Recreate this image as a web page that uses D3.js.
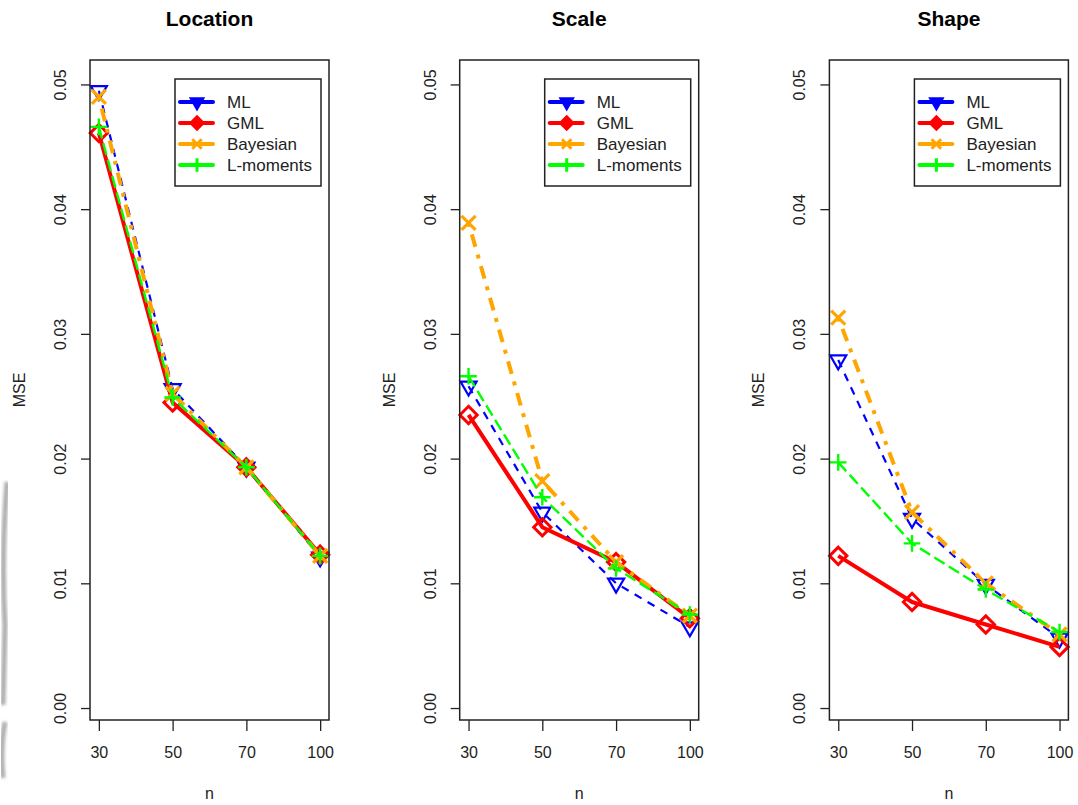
<!DOCTYPE html>
<html>
<head>
<meta charset="utf-8">
<script src="https://cdn.jsdelivr.net/npm/d3@7"></script>
<style>
  body { margin: 0; background: #fff; }
  svg { font-family: "Liberation Sans", Arial, sans-serif; }
</style>
</head>
<body>
<div id="chart"></div>
<script>
// sample sizes on the x axis (plotted at positions 1..4)
const sampleSizes = [30, 50, 70, 100];
const methods = ['ML', 'GML', 'Bayesian', 'L-moments'];
const panelTitles = ['Location', 'Scale', 'Shape'];
const yTickValues = [0, 0.01, 0.02, 0.03, 0.04, 0.05];

// MSE
const locationML    = [0.0495, 0.0256, 0.0193, 0.0121];
const locationGML   = [0.0461, 0.0245, 0.0193, 0.0123];
const locationBayes = [0.0490, 0.0252, 0.0193, 0.0122];
const locationLmom  = [0.0466, 0.0249, 0.0193, 0.0122];

const scaleML    = [0.0258, 0.0157, 0.0100, 0.0065];
const scaleGML   = [0.0235, 0.0145, 0.0117, 0.0072];
const scaleBayes = [0.0389, 0.0182, 0.0117, 0.0074];
const scaleLmom  = [0.0266, 0.0169, 0.0112, 0.0075];

const shapeML    = [0.0279, 0.0152, 0.0099, 0.0056];
const shapeGML   = [0.0122, 0.0085, 0.0067, 0.0049];
const shapeBayes = [0.0313, 0.0157, 0.0100, 0.0059];
const shapeLmom  = [0.0197, 0.0132, 0.0095, 0.0061];

const panelData = [
  [locationML, locationGML, locationBayes, locationLmom],
  [scaleML, scaleGML, scaleBayes, scaleLmom],
  [shapeML, shapeGML, shapeBayes, shapeLmom]
];

const config = {
  width: 1078,
  height: 805,
  top: 60,
  left: 90,
  panelStep: 369.7,
  panelW: 239,
  panelH: 660
};

const fontFamily = '"Liberation Sans", Arial, sans-serif';
const colors = ['#0000ff', '#ff0000', '#ffa500', '#00ff00'];
const dashes = ['8,7', null, '4,8,13,8', '12,5'];
const widths = [2.2, 4, 4, 2.4];
const markStroke = [2.2, 3, 3.2, 2.4];

// marker shapes (open in plot, filled in legend)
const symbolFor = [
  d3.symbol().type(d3.symbolTriangle2).size(185),
  d3.symbol().type(d3.symbolDiamond2).size(190),
  d3.symbol().type(d3.symbolTimes).size(130),
  d3.symbol().type(d3.symbolPlus).size(92)
];
const legendSymbolFor = [
  d3.symbol().type(d3.symbolTriangle2).size(90),
  d3.symbol().type(d3.symbolDiamond2).size(95),
  d3.symbol().type(d3.symbolTimes).size(60),
  d3.symbol().type(d3.symbolPlus).size(60)
];

const svg = d3.select('#chart').append('svg')
  .attr('width', config.width)
  .attr('height', config.height);

// faint scan smudge along the left edge
svg.append('defs').append('filter')
  .attr('id', 'smudge')
  .append('feGaussianBlur')
  .attr('stdDeviation', 1.6);

svg.append('path')
  .attr('d', 'M7,482 Q1,560 5,625 L3,705 M5,722 Q0,748 3,778')
  .attr('fill', 'none')
  .attr('stroke', '#8a8a8a')
  .attr('stroke-width', 5)
  .attr('opacity', 0.7)
  .attr('filter', 'url(#smudge)');

const x = d3.scaleLinear()
  .domain([0.88, 4.12])
  .range([0, config.panelW]);

const y = d3.scaleLinear()
  .domain([0.001 - 0.04 * 0.049, 0.05 + 0.04 * 0.049])
  .range([config.panelH, 0]);

const line = d3.line()
  .x((d, i) => x(i + 1))
  .y(d => y(d));

panelData.forEach((series, p) => {
  const left = config.left + p * config.panelStep;
  const g = svg.append('g')
    .attr('transform', `translate(${left},${config.top})`);

  // title
  svg.append('text')
    .attr('x', left + config.panelW / 2)
    .attr('y', 26)
    .attr('text-anchor', 'middle')
    .attr('font-size', 21)
    .attr('font-weight', 'bold')
    .attr('fill', '#000')
    .text(panelTitles[p]);

  // x axis
  const gx = g.append('g')
    .attr('transform', `translate(0,${config.panelH})`)
    .call(d3.axisBottom(x)
      .tickValues([1, 2, 3, 4])
      .tickFormat((d, i) => sampleSizes[i])
      .tickSize(11))
    .attr('font-family', fontFamily);
  gx.select('.domain').remove();
  gx.selectAll('.tick line').attr('stroke', '#222').attr('stroke-width', 1.3);
  gx.selectAll('.tick text')
    .attr('y', 38)
    .attr('dy', null)
    .attr('font-size', 16)
    .attr('fill', '#222');

  // y axis with rotated labels
  const gy = g.append('g')
    .call(d3.axisLeft(y)
      .tickValues(yTickValues)
      .tickFormat(d3.format('.2f'))
      .tickSize(9))
    .attr('font-family', fontFamily);
  gy.select('.domain').remove();
  gy.selectAll('.tick line').attr('stroke', '#222').attr('stroke-width', 1.3);
  gy.selectAll('.tick text')
    .attr('x', 0)
    .attr('dy', null)
    .attr('text-anchor', 'middle')
    .attr('transform', 'translate(-24,0) rotate(-90)')
    .attr('font-size', 16)
    .attr('fill', '#222');

  // axis titles
  g.append('text')
    .attr('transform', `translate(-65,${config.panelH / 2}) rotate(-90)`)
    .attr('text-anchor', 'middle')
    .attr('font-size', 16)
    .attr('fill', '#222')
    .text('MSE');

  g.append('text')
    .attr('x', config.panelW / 2)
    .attr('y', config.panelH + 79)
    .attr('text-anchor', 'middle')
    .attr('font-size', 16)
    .attr('fill', '#222')
    .text('n');

  // series
  series.forEach((vals, s) => {
    g.append('path')
      .datum(vals)
      .attr('d', line)
      .attr('fill', 'none')
      .attr('stroke', colors[s])
      .attr('stroke-width', widths[s])
      .attr('stroke-dasharray', dashes[s])
      .attr('stroke-linejoin', 'round');

    g.selectAll(null)
      .data(vals)
      .join('path')
      .attr('transform', (d, i) => `translate(${x(i + 1)},${y(d)})` + (s === 0 ? ' rotate(180)' : ''))
      .attr('d', symbolFor[s])
      .attr('fill', 'none')
      .attr('stroke', colors[s])
      .attr('stroke-width', markStroke[s]);
  });

  // plot box
  g.append('rect')
    .attr('width', config.panelW)
    .attr('height', config.panelH)
    .attr('fill', 'none')
    .attr('stroke', '#222')
    .attr('stroke-width', 1.5);

  // legend
  const legend = g.append('g')
    .attr('transform', `translate(${config.panelW - 154},19)`);

  legend.append('rect')
    .attr('width', 146)
    .attr('height', 107)
    .attr('fill', '#fff')
    .attr('stroke', '#222')
    .attr('stroke-width', 1.5);

  const item = legend.selectAll('.legend-item')
    .data(methods)
    .join('g')
    .attr('class', 'legend-item')
    .attr('transform', (d, i) => `translate(0,${23 + i * 21})`);

  item.append('line')
    .attr('x1', 5)
    .attr('x2', 38)
    .attr('stroke', (d, i) => colors[i])
    .attr('stroke-width', 4)
    .attr('stroke-linecap', 'round');

  item.append('path')
    .attr('transform', (d, i) => `translate(22,0)` + (i === 0 ? ' rotate(180)' : ''))
    .attr('d', (d, i) => legendSymbolFor[i]())
    .attr('fill', (d, i) => i < 2 ? colors[i] : 'none')
    .attr('stroke', (d, i) => colors[i])
    .attr('stroke-width', 3);

  item.append('text')
    .attr('x', 52)
    .attr('dy', '0.35em')
    .attr('font-size', 17)
    .attr('fill', '#222')
    .text(d => d);
});
</script>
</body>
</html>
